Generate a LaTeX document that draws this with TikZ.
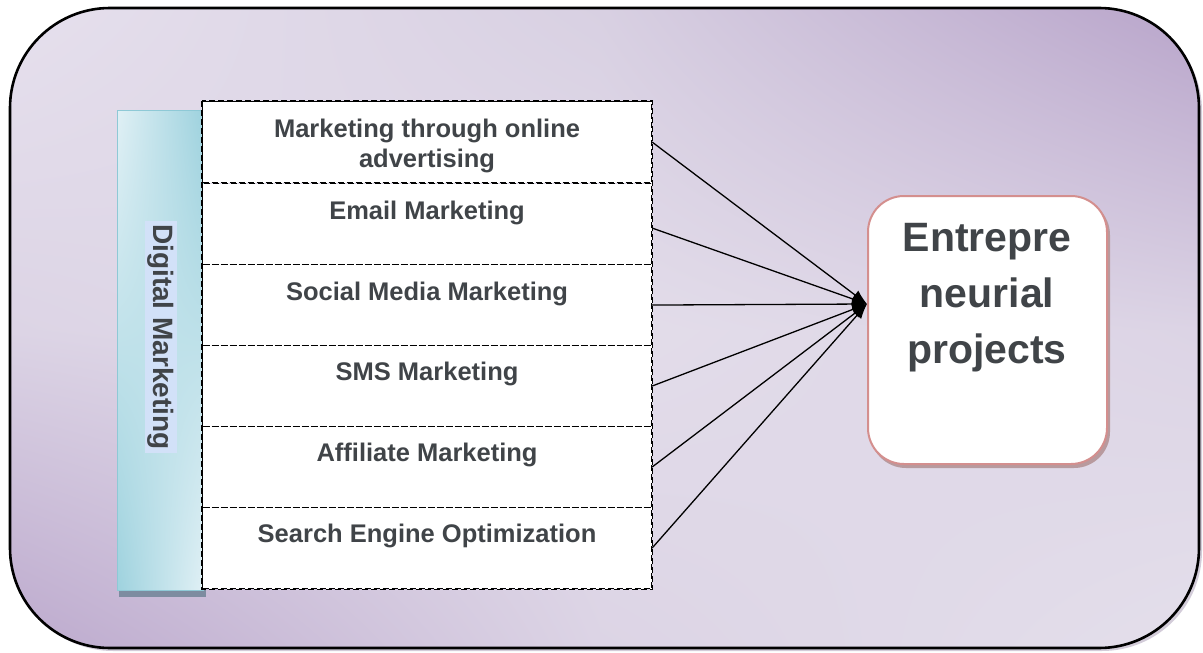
\documentclass[tikz,border=0pt]{standalone}
\usepackage{fontspec}
\setmainfont{Liberation Sans}
\usetikzlibrary{arrows.meta,shadings}
\definecolor{txt}{HTML}{404448}
\definecolor{gTL}{HTML}{E6E0ED}
\definecolor{gTM}{HTML}{D8D0E2}
\definecolor{gTR}{HTML}{B8A4CA}
\definecolor{gML}{HTML}{DCD4E5}
\definecolor{gC}{HTML}{E3DDEA}
\definecolor{gMR}{HTML}{DCD4E5}
\definecolor{gBL}{HTML}{BCA9CD}
\definecolor{gBM}{HTML}{DCD4E5}
\definecolor{gBR}{HTML}{E4DFEB}
\definecolor{blA}{HTML}{E0F0F5}
\definecolor{blB}{HTML}{9ED2DE}
\definecolor{blEdge}{HTML}{8EC9D6}
\definecolor{blShadow}{HTML}{7D8CA0}
\definecolor{hilite}{HTML}{D2E1F8}
\definecolor{pinkEdge}{HTML}{D48F8E}
\definecolor{pinkShadow}{HTML}{B89A9E}
\tikzset{
  rowbox/.style={draw=black, dash pattern=on 6pt off 3pt, line width=1.1pt, fill=white,
    minimum width=449pt, minimum height=81pt, inner sep=0pt, anchor=north west},
  lbl/.style={text=txt, font=\fontsize{25.5}{30}\selectfont\bfseries, align=center, inner sep=0pt},
  conn/.style={line width=1.3pt, -{Latex[length=15pt,width=11pt]}},
}
\begin{document}
\begin{tikzpicture}[x=1pt,y=-1pt]
\useasboundingbox (0,0) rectangle (1203,653);
% outer panel
\fill[rounded corners=100pt, fill=gTR!70!gray, opacity=0.5] (13,11) rectangle (1202,651);
\begin{scope}
\clip[rounded corners=100pt] (10,8) rectangle (1199,648);
\shade[upper left=gTL, upper right=gTM, lower left=gML, lower right=gC] (9,7) rectangle (601,331);
\shade[upper left=gTM, upper right=gTR, lower left=gC, lower right=gMR] (600,7) rectangle (1200,331);
\shade[upper left=gML, upper right=gC, lower left=gBL, lower right=gBM] (9,330) rectangle (601,649);
\shade[upper left=gC, upper right=gMR, lower left=gBM, lower right=gBR] (600,330) rectangle (1200,649);
\end{scope}
\draw[rounded corners=100pt, line width=2.6pt] (10,8) rectangle (1199,648);
% blue bar
\fill[blShadow] (119,110) rectangle (206,597);
\shade[upper left=blA, upper right=blB, lower left=blB, lower right=blA]
  (117,110) rectangle (203,590);
\draw[blEdge, line width=1pt] (117,110) rectangle (203,590);
\node[fill=hilite, text=txt, rotate=-90, inner xsep=3pt, inner ysep=3pt,
  font=\fontsize{28}{30}\selectfont\bfseries] (dm) at (161,337) {Digital Marketing};
% rows
\node[rowbox] (r1) at (202,101) {};
\node[rowbox] (r2) at (202,183) {};
\node[rowbox] (r3) at (202,264) {};
\node[rowbox] (r4) at (202,345) {};
\node[rowbox] (r5) at (202,426) {};
\node[rowbox] (r6) at (202,507) {};
\draw[dash pattern=on 6pt off 3pt, line width=1.1pt] (r1.north west) rectangle (r6.south east);
\node[lbl] (t1) at ([yshift=-45pt]r1.north) {Marketing through online\\advertising};
\node[lbl] (t2) at ([yshift=-30pt]r2.north) {Email Marketing};
\node[lbl] (t3) at ([yshift=-30pt]r3.north) {Social Media Marketing};
\node[lbl] (t4) at ([yshift=-29pt]r4.north) {SMS Marketing};
\node[lbl] (t5) at ([yshift=-29pt]r5.north) {Affiliate Marketing};
\node[lbl] (t6) at ([yshift=-29pt]r6.north) {Search Engine Optimization};
% right box
\fill[rounded corners=36pt, pinkShadow] (870,199) rectangle (1110,468);
\draw[rounded corners=36pt, draw=pinkEdge, line width=2pt, fill=white] (868,196) rectangle (1107,464);
\node[text=txt, font=\fontsize{41}{56}\selectfont\bfseries, align=center, inner sep=0pt] (ep) at (987,298)
  {Entrepre\\neurial\\projects};
\coordinate (tip) at (867,304);
% connectors
\foreach \r/\dy in {r1/0,r2/4,r3/0,r4/0,r5/0,r6/0}{
  \draw[conn] ([yshift=-\dy pt]\r.east) -- (tip);
}
\end{tikzpicture}
\end{document}
